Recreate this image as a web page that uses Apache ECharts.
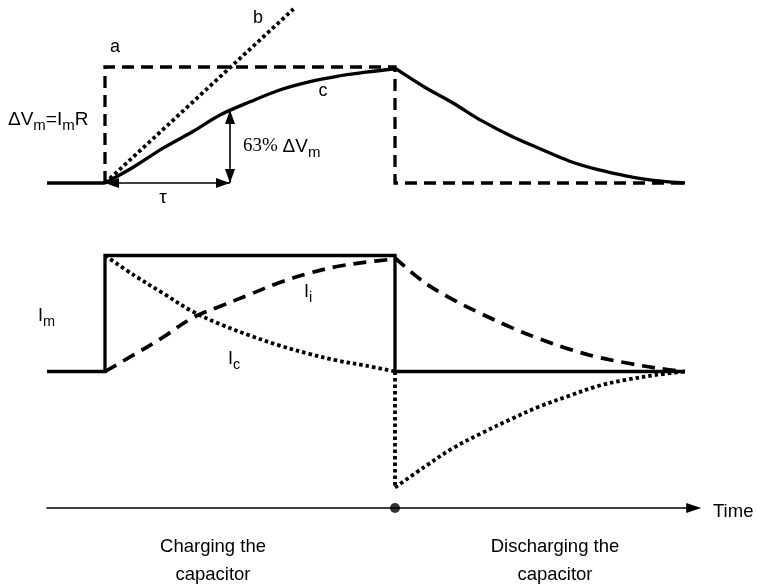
<!DOCTYPE html>
<html><head><meta charset="utf-8">
<script src="https://cdn.jsdelivr.net/npm/echarts@6/dist/echarts.min.js"></script>
<style>html,body{margin:0;padding:0;background:#fff}#c{width:757px;height:588px}</style>
</head><body><div id="c"></div><script>
// ---- data (time in arbitrary units, step at t=2, switch at t=12) ----
const LEAD_T = [0, 2];
const LEAD_V = [0, 0];
const CHARGE_T = [2, 3, 4, 5, 6, 7, 8, 9, 10, 11, 12];
const V_CHARGE = [0, 0.14, 0.30, 0.44, 0.59, 0.70, 0.80, 0.87, 0.92, 0.955, 0.985];
const DISCHARGE_T = [12, 13, 14, 15, 16, 17, 18, 19, 20, 21, 22];
const V_DISCHARGE = [0.99, 0.83, 0.69, 0.535, 0.405, 0.295, 0.19, 0.115, 0.06, 0.02, 0];
const A_T = [2, 2, 12, 12, 22];
const A_V = [0, 1, 1, 0, 0];
const B_T = [2, 8.5];
const B_V = [0, 1.5];
const TAU = 6.31;
const V63 = 0.63;
const IM_T = [0, 2, 2, 12, 12, 22];
const IM_I = [0, 0, 1, 1, 0, 0];
const II_CHARGE = [0, 0.145, 0.295, 0.46, 0.565, 0.665, 0.765, 0.845, 0.905, 0.943, 0.97];
const II_DISCHARGE = [0.98, 0.77, 0.62, 0.495, 0.38, 0.28, 0.193, 0.123, 0.073, 0.03, 0];
const IC_CHARGE = [1.0, 0.83, 0.675, 0.52, 0.405, 0.31, 0.225, 0.155, 0.095, 0.05, 0];
const IC_JUMP_T = [12, 12];
const IC_JUMP = [0, -1];
const IC_DISCHARGE = [-1, -0.825, -0.66, -0.53, -0.41, -0.30, -0.21, -0.125, -0.07, -0.03, 0];
const SWITCH_T = 12;
const TIME_MAX = 22.3;

const zip = (xs, ys) => xs.map((x, i) => [x, ys[i]]);
const SANS = 'Liberation Sans, Arial, sans-serif';
const SERIF = 'Liberation Serif, Times New Roman, serif';

function line(name, data, g, style, smooth) {
  return {
    name, type: 'line', xAxisIndex: g, yAxisIndex: g, data,
    symbol: 'none', showSymbol: false, clip: false, silent: true,
    smooth: smooth ? 0.35 : false,
    lineStyle: Object.assign({ color: '#000', width: 3.3, cap: 'butt', join: 'miter' }, style)
  };
}
const SOLID = { width: 3.3 };
const DASH_A = { width: 3.3, type: [12, 7] };
const DOT = { width: 3.8, type: [3.5, 3] };
const DASH_I = { width: 3.7, type: [13, 8] };

const hiddenX = (g, max) => ({ type: 'value', gridIndex: g, min: 0, max, show: false });
const hiddenY = (g, min, max) => ({ type: 'value', gridIndex: g, min, max, show: false });

function txt(text, x, y, align, size, fam, extra) {
  return {
    type: 'text', x, y, silent: true,
    style: Object.assign({
      text, fill: '#000', font: size + 'px ' + (fam || SANS),
      align, textAlign: align, verticalAlign: 'middle', textVerticalAlign: 'middle'
    }, extra || {})
  };
}
// a label made of segments; subscripts are smaller and lowered
const mctx = document.createElement('canvas').getContext('2d');
function run(segs, x0, y, size, subSize) {
  const out = [];
  let x = x0;
  segs.forEach(([t, kind]) => {
    const sub = kind === 's';
    const fam = kind === 'r' ? SERIF : SANS;
    const sz = sub ? subSize : size;
    const yy = sub ? y + 0.3465 * size + 5 - 0.3465 * subSize : y;
    out.push(txt(t, x, yy, 'left', sz, fam));
    mctx.font = sz + 'px ' + fam;
    x += mctx.measureText(t).width;
  });
  return out;
}

const chart = echarts.init(document.getElementById('c'), null, { renderer: 'canvas' });
const lead = line('lead', zip(LEAD_T, LEAD_V), 0, SOLID, false);
lead.markLine = {
  silent: true, animation: false,
  symbol: ['triangle', 'triangle'], symbolSize: [10, 14], symbolOffset: [[0, 7], [0, 7]],
  lineStyle: { color: '#000', width: 1.6, type: 'solid' },
  label: { show: false }, emphasis: { disabled: true },
  data: [
    [{ coord: [CHARGE_T[0], 0] }, { coord: [TAU, 0] }],
    [{ coord: [TAU, 0] }, { coord: [TAU, V63] }]
  ]
};

const graphics = [
  txt('a', 115, 47.5, 'center', 18),
  txt('b', 258, 18.5, 'center', 18),
  txt('c', 323, 91.5, 'center', 18),
  ...run([['ΔV', 'n'], ['m', 's'], ['=I', 'n'], ['m', 's'], ['R', 'n']], 8, 119.5, 19, 15),
  ...run([['63% ', 'r'], ['ΔV', 'n'], ['m', 's']], 243, 146.5, 19, 15),
  txt('τ', 163, 198, 'center', 19),
  ...run([['I', 'n'], ['m', 's']], 38, 315.7, 18, 14.5),
  ...run([['I', 'n'], ['i', 's']], 304, 291.7, 18, 14.5),
  ...run([['I', 'n'], ['c', 's']], 228, 358.7, 18, 14.5),
  txt('Time', 713, 511.5, 'left', 18.5),
  txt('Charging the\ncapacitor', 213, 561, 'center', 18.5, SANS, { lineHeight: 28.5 }),
  txt('Discharging the\ncapacitor', 555, 561, 'center', 18.5, SANS, { lineHeight: 28.5 })
];

chart.setOption({
  animation: false,
  backgroundColor: '#fff',
  grid: [
    { left: 47, width: 638, top: 9, height: 174 },
    { left: 47, width: 638, top: 255.5, height: 232 },
    { left: 47, width: TIME_MAX * 29, top: 488, height: 40 }
  ],
  xAxis: [
    hiddenX(0, 22), hiddenX(1, 22),
    {
      type: 'value', gridIndex: 2, min: 0, max: TIME_MAX,
      axisLine: { show: true, onZero: true, symbol: ['none', 'triangle'], symbolSize: [10, 15],
        lineStyle: { color: '#000', width: 1.6 } },
      axisTick: { show: false }, axisLabel: { show: false }, splitLine: { show: false }
    }
  ],
  yAxis: [hiddenY(0, 0, 1.5), hiddenY(1, -1, 1), hiddenY(2, -1, 1)],
  series: [
    lead,
    line('c-charge', zip(CHARGE_T, V_CHARGE), 0, SOLID, true),
    line('c-discharge', zip(DISCHARGE_T, V_DISCHARGE), 0, SOLID, true),
    line('a', zip(A_T, A_V), 0, DASH_A, false),
    line('b', zip(B_T, B_V), 0, DOT, false),
    line('Im', zip(IM_T, IM_I), 1, SOLID, false),
    line('Ii-charge', zip(CHARGE_T, II_CHARGE), 1, DASH_I, true),
    line('Ii-discharge', zip(DISCHARGE_T, II_DISCHARGE), 1, DASH_I, true),
    line('Ic-charge', zip(CHARGE_T, IC_CHARGE), 1, DOT, true),
    line('Ic-jump', zip(IC_JUMP_T, IC_JUMP), 1, DOT, false),
    line('Ic-discharge', zip(DISCHARGE_T, IC_DISCHARGE), 1, DOT, true),
    {
      type: 'scatter', xAxisIndex: 2, yAxisIndex: 2, data: [[SWITCH_T, 0]],
      symbol: 'circle', symbolSize: 10, itemStyle: { color: '#000' }, silent: true, z: 5
    }
  ],
  graphic: graphics
});
</script></body></html>
